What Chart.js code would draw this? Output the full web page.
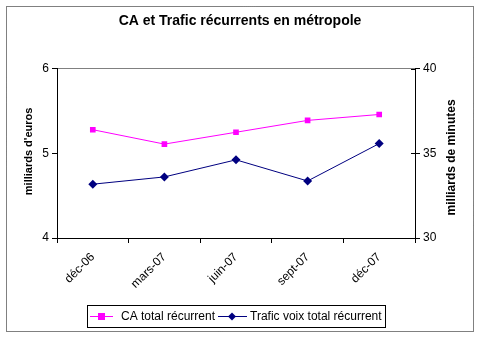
<!DOCTYPE html>
<html>
<head>
<meta charset="utf-8">
<script src="https://cdn.jsdelivr.net/npm/chart.js@4/dist/chart.umd.min.js"></script>
<style>
  html, body { margin: 0; padding: 0; background: #fff; }
  #wrap { width: 480px; height: 337px; }
</style>
</head>
<body>
<div id="wrap"><canvas id="chart" width="480" height="337"></canvas></div>
<script>
// données
const months = ['déc-06', 'mars-07', 'juin-07', 'sept-07', 'déc-07'];
const caTotal = [5.28, 5.11, 5.25, 5.39, 5.46];          // milliards d'euros
const traficVoix = [33.18, 33.61, 34.62, 33.37, 35.58];   // milliards de minutes
const leftTicks = [4, 5, 6];
const rightTicks = [30, 35, 40];

const FONT = 'Liberation Sans, Arial, sans-serif';
const PINK = '#ff00ff';
const NAVY = '#000080';

// cadre pointillé, titres des axes, légende encadrée
const decorPlugin = {
    id: 'decor',
    beforeDraw(chart) {
        const ctx = chart.ctx;
        ctx.save();
        ctx.fillStyle = '#fff';
        ctx.fillRect(0, 0, chart.width, chart.height);
        ctx.strokeStyle = '#000';
        ctx.lineWidth = 1;
        ctx.setLineDash([1, 1]);
        ctx.strokeRect(6.5, 6.5, 467, 325);
        ctx.restore();
    },
    afterDraw(chart) {
        const ctx = chart.ctx;
        const area = chart.chartArea;
        const yR = chart.scales.y1;
        ctx.save();
        // petits traits intérieurs sur l'axe de droite
        ctx.strokeStyle = '#000';
        ctx.lineWidth = 1;
        rightTicks.forEach(v => {
            const y = Math.round(yR.getPixelForValue(v)) + 0.5;
            ctx.beginPath();
            ctx.moveTo(area.right - 4, y);
            ctx.lineTo(area.right, y);
            ctx.stroke();
        });

        // titres des axes
        ctx.fillStyle = '#000';
        ctx.textAlign = 'center';
        ctx.textBaseline = 'middle';
        const midY = (area.top + area.bottom) / 2;
        ctx.save();
        ctx.font = 'bold 11px ' + FONT;
        ctx.translate(29, midY - 2);
        ctx.rotate(-Math.PI / 2);
        ctx.fillText("milliards d'euros", 0, 0);
        ctx.restore();
        ctx.save();
        ctx.font = 'bold 12px ' + FONT;
        ctx.translate(452, midY + 4);
        ctx.rotate(-Math.PI / 2);
        ctx.fillText('milliards de minutes', 0, 0);
        ctx.restore();

        // légende
        const lx = 87, ly = 305, lw = 298, lh = 22;
        ctx.strokeStyle = '#000';
        ctx.strokeRect(lx + 0.5, ly + 0.5, lw, lh);
        const cy = ly + lh / 2 + 0.5;
        ctx.font = '12px ' + FONT;
        ctx.textAlign = 'left';
        // série 1
        ctx.strokeStyle = PINK;
        ctx.beginPath();
        ctx.moveTo(90, cy); ctx.lineTo(113, cy); ctx.stroke();
        ctx.fillStyle = PINK;
        ctx.fillRect(98, cy - 3.5, 7, 7);
        ctx.fillStyle = '#000';
        ctx.fillText('CA total récurrent', 121, cy);
        // série 2
        ctx.strokeStyle = NAVY;
        ctx.beginPath();
        ctx.moveTo(218, cy); ctx.lineTo(247, cy); ctx.stroke();
        ctx.fillStyle = NAVY;
        ctx.beginPath();
        ctx.moveTo(232, cy - 4); ctx.lineTo(236, cy); ctx.lineTo(232, cy + 4); ctx.lineTo(228, cy);
        ctx.closePath(); ctx.fill();
        ctx.fillStyle = '#000';
        ctx.fillText('Trafic voix total récurrent', 250, cy);
        ctx.restore();
    }
};

new Chart(document.getElementById('chart'), {
    type: 'line',
    data: {
        labels: months,
        datasets: [{
            label: 'CA total récurrent',
            data: caTotal,
            yAxisID: 'y',
            borderColor: PINK,
            backgroundColor: PINK,
            borderWidth: 1,
            pointStyle: 'rect',
            pointRadius: 4,
            pointBorderWidth: 0,
            tension: 0
        }, {
            label: 'Trafic voix total récurrent',
            data: traficVoix,
            yAxisID: 'y1',
            borderColor: NAVY,
            backgroundColor: NAVY,
            borderWidth: 1,
            pointStyle: 'rectRot',
            pointRadius: 4.5,
            pointBorderWidth: 0,
            tension: 0
        }]
    },
    options: {
        responsive: false,
        animation: false,
        layout: { padding: { left: 8, right: 8, top: 0, bottom: 37 } },
        plugins: {
            legend: { display: false },
            tooltip: { enabled: false },
            title: {
                display: true,
                text: 'CA et Trafic récurrents en métropole',
                color: '#000',
                font: { family: FONT, size: 14, weight: 'bold' },
                padding: { top: 13, bottom: 39 }
            }
        },
        scales: {
            x: {
                offset: true,
                grid: { offset: true, drawOnChartArea: false, tickLength: 5, color: '#000' },
                border: { color: '#000' },
                ticks: {
                    color: '#000',
                    font: { family: FONT, size: 12 },
                    maxRotation: 45,
                    minRotation: 45,
                    padding: 7
                },
                afterFit(scale) { scale.height = 62; }
            },
            y: {
                position: 'left',
                min: 4,
                max: 6,
                afterBuildTicks(scale) { scale.ticks = leftTicks.map(v => ({ value: v })); },
                grid: {
                    drawOnChartArea: true,
                    tickLength: 5,
                    color: ctx => ctx.tick && ctx.tick.value === 6 ? '#808080' : 'rgba(0,0,0,0)',
                    tickColor: '#000'
                },
                border: { color: '#000' },
                ticks: { color: '#000', font: { family: FONT, size: 12 }, padding: 3 },
                afterFit(scale) { scale.width = 49; }
            },
            y1: {
                position: 'right',
                min: 30,
                max: 40,
                afterBuildTicks(scale) { scale.ticks = rightTicks.map(v => ({ value: v })); },
                grid: { drawOnChartArea: false, tickLength: 5, color: '#000' },
                border: { color: '#000' },
                ticks: { color: '#000', font: { family: FONT, size: 12 }, padding: 3 },
                afterFit(scale) { scale.width = 57; }
            }
        }
    },
    plugins: [decorPlugin]
});
</script>
</body>
</html>
